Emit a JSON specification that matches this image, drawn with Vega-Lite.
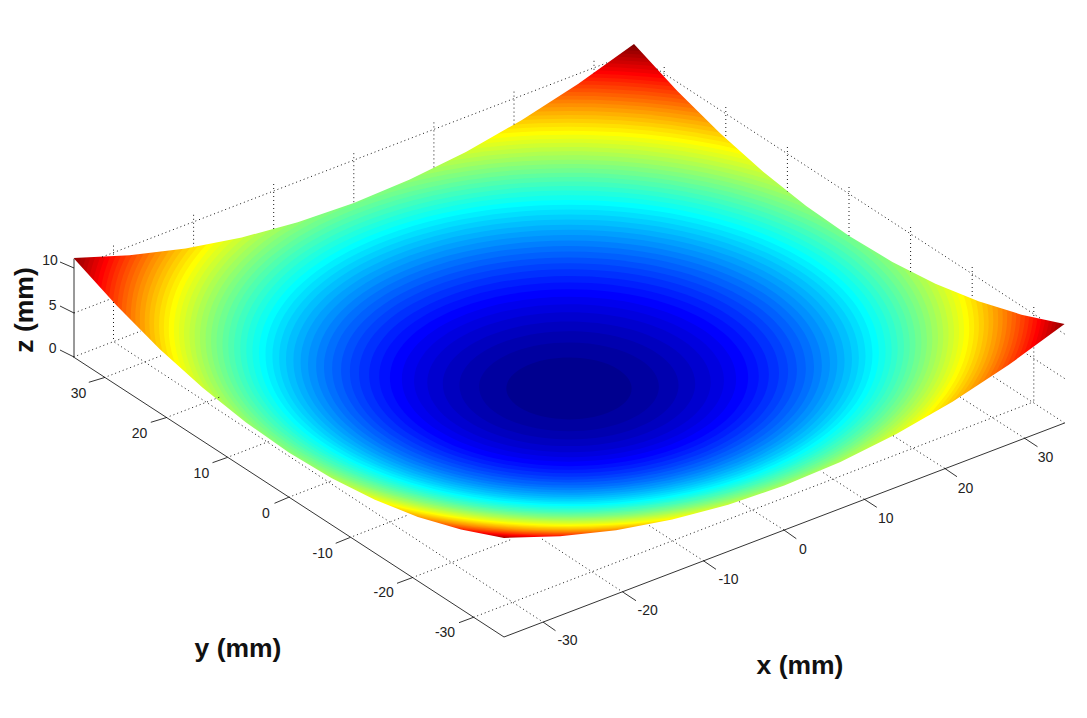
{"$schema":"https://vega.github.io/schema/vega-lite/v6.json","width":1087,"height":718,"padding":0,"autosize":{"type":"none"},"background":"white","config":{"view":{"stroke":null}},
"datasets":{
"levels":[{"u":569,"v":281.4,"z":12.2},{"u":569,"v":286.8,"z":11.6},{"u":569,"v":291.2,"z":11.1},{"u":569,"v":292.8,"z":10.92},{"u":569,"v":294.3,"z":10.75},{"u":569,"v":295.9,"z":10.58},{"u":569,"v":297.4,"z":10.4},{"u":569,"v":298.9,"z":10.23},{"u":569,"v":300.5,"z":10.06},{"u":569,"v":302,"z":9.88},{"u":569,"v":303.6,"z":9.71},{"u":569,"v":305.1,"z":9.54},{"u":569,"v":306.7,"z":9.36},{"u":569,"v":308.2,"z":9.19},{"u":569,"v":309.7,"z":9.02},{"u":569,"v":311.3,"z":8.84},{"u":569,"v":312.8,"z":8.67},{"u":569,"v":314.4,"z":8.5},{"u":569,"v":315.9,"z":8.32},{"u":569,"v":317.5,"z":8.15},{"u":569,"v":319,"z":7.98},{"u":569,"v":320.6,"z":7.8},{"u":569,"v":322.1,"z":7.63},{"u":569,"v":323.6,"z":7.46},{"u":569,"v":325.2,"z":7.28},{"u":569,"v":326.7,"z":7.11},{"u":569,"v":328.3,"z":6.94},{"u":569,"v":329.8,"z":6.76},{"u":569,"v":331.4,"z":6.59},{"u":569,"v":332.9,"z":6.42},{"u":569,"v":334.4,"z":6.24},{"u":569,"v":336,"z":6.07},{"u":569,"v":337.5,"z":5.9},{"u":569,"v":339.1,"z":5.72},{"u":569,"v":340.6,"z":5.55},{"u":569,"v":342.2,"z":5.38},{"u":569,"v":343.7,"z":5.2},{"u":569,"v":345.2,"z":5.03},{"u":569,"v":346.8,"z":4.86},{"u":569,"v":348.3,"z":4.68},{"u":569,"v":349.9,"z":4.51},{"u":569,"v":351.4,"z":4.34},{"u":569,"v":353,"z":4.16},{"u":569,"v":354.5,"z":3.99},{"u":569,"v":356,"z":3.81},{"u":569,"v":357.6,"z":3.64},{"u":569,"v":359.1,"z":3.47},{"u":569,"v":360.7,"z":3.29},{"u":569,"v":362.2,"z":3.12},{"u":569,"v":363.8,"z":2.95},{"u":569,"v":365.3,"z":2.77},{"u":569,"v":366.9,"z":2.6},{"u":569,"v":368.4,"z":2.43},{"u":569,"v":369.9,"z":2.25},{"u":569,"v":371.5,"z":2.08},{"u":569,"v":373,"z":1.91},{"u":569,"v":374.6,"z":1.73},{"u":569,"v":376.1,"z":1.56},{"u":569,"v":377.7,"z":1.39},{"u":569,"v":379.2,"z":1.21},{"u":569,"v":380.7,"z":1.04},{"u":569,"v":382.3,"z":0.87},{"u":569,"v":383.8,"z":0.69},{"u":569,"v":385.4,"z":0.52},{"u":569,"v":386.9,"z":0.35},{"u":569,"v":388.5,"z":0.17}],
"upperEdge":[{"u":0,"v":258,"w":0},{"u":73.5,"v":258,"w":0},{"u":129.6,"v":255.3,"w":0},{"u":185.6,"v":248.5,"w":0},{"u":241.7,"v":237.5,"w":0},{"u":297.7,"v":222.3,"w":0},{"u":353.8,"v":203,"w":0},{"u":409.8,"v":179.5,"w":0},{"u":465.9,"v":151.9,"w":0},{"u":521.9,"v":120.1,"w":0},{"u":578,"v":84.1,"w":0},{"u":634,"v":44,"w":0},{"u":677.1,"v":90.7,"w":0},{"u":720.1,"v":133.3,"w":0},{"u":763.2,"v":171.7,"w":0},{"u":806.2,"v":205.9,"w":0},{"u":849.3,"v":236,"w":0},{"u":892.4,"v":261.9,"w":0},{"u":935.4,"v":283.7,"w":0},{"u":978.5,"v":301.3,"w":0},{"u":1021.5,"v":314.7,"w":0},{"u":1064.6,"v":324,"w":0},{"u":1087,"v":324,"w":0}],
"lowerEdge":[{"u":0,"v":258,"w":718},{"u":73.5,"v":258,"w":718},{"u":116.6,"v":305.6,"w":718},{"u":159.6,"v":348.9,"w":718},{"u":202.7,"v":387.8,"w":718},{"u":245.7,"v":422.3,"w":718},{"u":288.8,"v":452.5,"w":718},{"u":331.8,"v":478.3,"w":718},{"u":374.9,"v":499.8,"w":718},{"u":417.9,"v":516.9,"w":718},{"u":461,"v":529.6,"w":718},{"u":504,"v":538,"w":718},{"u":560.1,"v":536.2,"w":718},{"u":616.1,"v":530.2,"w":718},{"u":672.2,"v":519.6,"w":718},{"u":728.2,"v":504.8,"w":718},{"u":784.3,"v":485.5,"w":718},{"u":840.4,"v":461.9,"w":718},{"u":896.4,"v":434,"w":718},{"u":952.5,"v":401.7,"w":718},{"u":1008.5,"v":365.1,"w":718},{"u":1064.6,"v":324,"w":718},{"u":1087,"v":324,"w":718}],
"grid":[{"a":544,"b":622.7,"c":113.5,"d":341.6},{"a":623.2,"b":592.3,"c":542,"d":539},{"a":703.8,"b":561,"c":648.4,"d":525},{"a":784,"b":530,"c":739,"d":501.5},{"a":864.4,"b":499.3,"c":820.7,"d":471},{"a":944.6,"b":468.3,"c":892,"d":435},{"a":1024.7,"b":438.3,"c":960,"d":397},{"a":1064.6,"b":423,"c":993,"d":376.5},{"a":104,"b":377.7,"c":163.6,"d":354.8},{"a":166,"b":417.7,"c":220,"d":397},{"a":226.6,"b":457.7,"c":270,"d":441},{"a":288.6,"b":497.3,"c":332,"d":480.6},{"a":349.5,"b":537.7,"c":408,"d":515},{"a":412.2,"b":577.7,"c":512.4,"d":539},{"a":473.5,"b":617.3,"c":1034,"d":401.7},{"a":73.5,"b":357,"c":141,"d":331},{"a":74,"b":313,"c":111,"d":298.8},{"a":102,"b":257,"c":609,"d":62},{"a":656.8,"b":68.8,"c":1041.8,"d":319.2},{"a":1064.6,"b":378.5,"c":1026,"d":353.5},{"a":1064.6,"b":334,"c":1060,"d":331},{"a":113.5,"b":245.6,"c":113.5,"d":256.7},{"a":113.5,"b":302,"c":113.5,"d":341.6},{"a":193.6,"b":214.8,"c":193.6,"d":247},{"a":273.7,"b":184,"c":273.7,"d":229.3},{"a":353.8,"b":153.2,"c":353.8,"d":203},{"a":433.9,"b":122.4,"c":433.9,"d":168.3},{"a":514,"b":91.6,"c":514,"d":124.7},{"a":594,"b":60.8,"c":594,"d":73.2},{"a":1033.8,"b":307,"c":1033.8,"d":318},{"a":1033.8,"b":347.5,"c":1033.8,"d":403},{"a":972.2,"b":267,"c":972.2,"d":298.9},{"a":910.6,"b":227,"c":910.6,"d":271.8},{"a":849,"b":187,"c":849,"d":235.8},{"a":787.4,"b":147,"c":787.4,"d":191.5},{"a":725.8,"b":107,"c":725.8,"d":138.5},{"a":664.2,"b":67,"c":664.2,"d":77.4}],
"axes":[{"a":504,"b":637,"c":73.5,"d":357},{"a":504,"b":637,"c":1064.6,"d":423},{"a":74,"b":259,"c":74,"d":357},{"a":74,"b":357,"c":60,"d":350},{"a":74,"b":313,"c":60,"d":306},{"a":74,"b":268,"c":60,"d":262},{"a":104,"b":377.7,"c":88.8,"d":382.3},{"a":166,"b":417.7,"c":150.8,"d":422.3},{"a":226.6,"b":457.7,"c":212.5,"d":462.7},{"a":288.6,"b":497.3,"c":274.5,"d":503.3},{"a":349.5,"b":537.7,"c":335.7,"d":543.3},{"a":412.2,"b":577.7,"c":397,"d":583.3},{"a":473.5,"b":617.3,"c":459,"d":622.7},{"a":544,"b":622.7,"c":555.5,"d":630.7},{"a":623.2,"b":592.3,"c":636,"d":600.7},{"a":703.8,"b":561,"c":716,"d":569.3},{"a":784,"b":530,"c":796.3,"d":538.7},{"a":864.4,"b":499.3,"c":876.8,"d":507.3},{"a":944.6,"b":468.3,"c":957,"d":476.7},{"a":1024.7,"b":438.3,"c":1037.5,"d":446.7}],
"ticks":[{"u":78.5,"v":394,"t":"30"},{"u":139.5,"v":434,"t":"20"},{"u":201.4,"v":474.3,"t":"10"},{"u":265.8,"v":514,"t":"0"},{"u":322.7,"v":554,"t":"-10"},{"u":383.6,"v":593.3,"t":"-20"},{"u":445,"v":633.3,"t":"-30"},{"u":567.5,"v":641,"t":"-30"},{"u":647.6,"v":611,"t":"-20"},{"u":728.5,"v":580,"t":"-10"},{"u":802.9,"v":550,"t":"0"},{"u":885.7,"v":519,"t":"10"},{"u":965.5,"v":489,"t":"20"},{"u":1045.6,"v":457.7,"t":"30"},{"u":50,"v":261,"t":"10"},{"u":52.7,"v":305.7,"t":"5"},{"u":52.7,"v":349,"t":"0"}],
"titles":[{"u":800,"v":666,"t":"x (mm)"},{"u":238,"v":649,"t":"y (mm)"}],
"ztitle":[{"u":25,"v":310,"t":"z (mm)"}]
},
"layer":[
{"data":{"name":"levels"},"mark":{"type":"point","filled":true,"opacity":1,"strokeWidth":0,"shape":"M8.106 -3.08 C4.663 -5.289 -1.757 -5.701 -6.234 -4 C-10.711 -2.299 -11.549 0.871 -8.106 3.08 C-4.663 5.289 1.757 5.701 6.234 4 C10.711 2.299 11.549 -0.871 8.106 -3.08 Z"},
"encoding":{"x":{"field":"u","type":"quantitative","scale":{"domain":[0,1087],"nice":false},"axis":null},"y":{"field":"v","type":"quantitative","scale":{"domain":[718,0],"nice":false},"axis":null},
"size":{"field":"z","type":"quantitative","scale":{"domain":[0,11.1],"range":[0,9800]},"legend":null},
"color":{"field":"z","type":"quantitative","scale":{"domain":[0.17,1.39,4.16,6.94,9.71,11.1],"range":["#00008f","#0000ff","#00ffff","#ffff00","#ff0000","#800000"],"clamp":true,"interpolate":"rgb"},"legend":null},
"order":{"field":"z","sort":"descending"}}},
{"data":{"name":"upperEdge"},"mark":{"type":"area","color":"white","opacity":1},"encoding":{"x":{"field":"u","type":"quantitative","scale":{"domain":[0,1087],"nice":false},"axis":null},"y":{"field":"v","type":"quantitative","scale":{"domain":[718,0],"nice":false},"axis":null},"y2":{"field":"w"}}},
{"data":{"name":"lowerEdge"},"mark":{"type":"area","color":"white","opacity":1},"encoding":{"x":{"field":"u","type":"quantitative","scale":{"domain":[0,1087],"nice":false},"axis":null},"y":{"field":"v","type":"quantitative","scale":{"domain":[718,0],"nice":false},"axis":null},"y2":{"field":"w"}}},
{"data":{"name":"grid"},"mark":{"type":"rule","color":"#000000","strokeWidth":0.9,"strokeDash":[1,3]},"encoding":{"x":{"field":"a","type":"quantitative","scale":{"domain":[0,1087],"nice":false},"axis":null},"y":{"field":"b","type":"quantitative","scale":{"domain":[718,0],"nice":false},"axis":null},"x2":{"field":"c"},"y2":{"field":"d"}}},
{"data":{"name":"axes"},"mark":{"type":"rule","color":"#000000","strokeWidth":0.8},"encoding":{"x":{"field":"a","type":"quantitative","scale":{"domain":[0,1087],"nice":false},"axis":null},"y":{"field":"b","type":"quantitative","scale":{"domain":[718,0],"nice":false},"axis":null},"x2":{"field":"c"},"y2":{"field":"d"}}},
{"data":{"name":"ticks"},"mark":{"type":"text","font":"Liberation Sans","fontSize":14,"color":"#222222","align":"center","baseline":"middle"},"encoding":{"x":{"field":"u","type":"quantitative","scale":{"domain":[0,1087],"nice":false},"axis":null},"y":{"field":"v","type":"quantitative","scale":{"domain":[718,0],"nice":false},"axis":null},"text":{"field":"t"}}},
{"data":{"name":"titles"},"mark":{"type":"text","font":"Liberation Sans","fontWeight":"bold","fontSize":26.5,"color":"#111111","align":"center","baseline":"middle"},"encoding":{"x":{"field":"u","type":"quantitative","scale":{"domain":[0,1087],"nice":false},"axis":null},"y":{"field":"v","type":"quantitative","scale":{"domain":[718,0],"nice":false},"axis":null},"text":{"field":"t"}}},
{"data":{"name":"ztitle"},"mark":{"type":"text","font":"Liberation Sans","fontWeight":"bold","fontSize":26.5,"color":"#111111","align":"center","baseline":"middle","angle":270},"encoding":{"x":{"field":"u","type":"quantitative","scale":{"domain":[0,1087],"nice":false},"axis":null},"y":{"field":"v","type":"quantitative","scale":{"domain":[718,0],"nice":false},"axis":null},"text":{"field":"t"}}}
],
"resolve":{"scale":{"color":"independent","size":"independent"}}}
